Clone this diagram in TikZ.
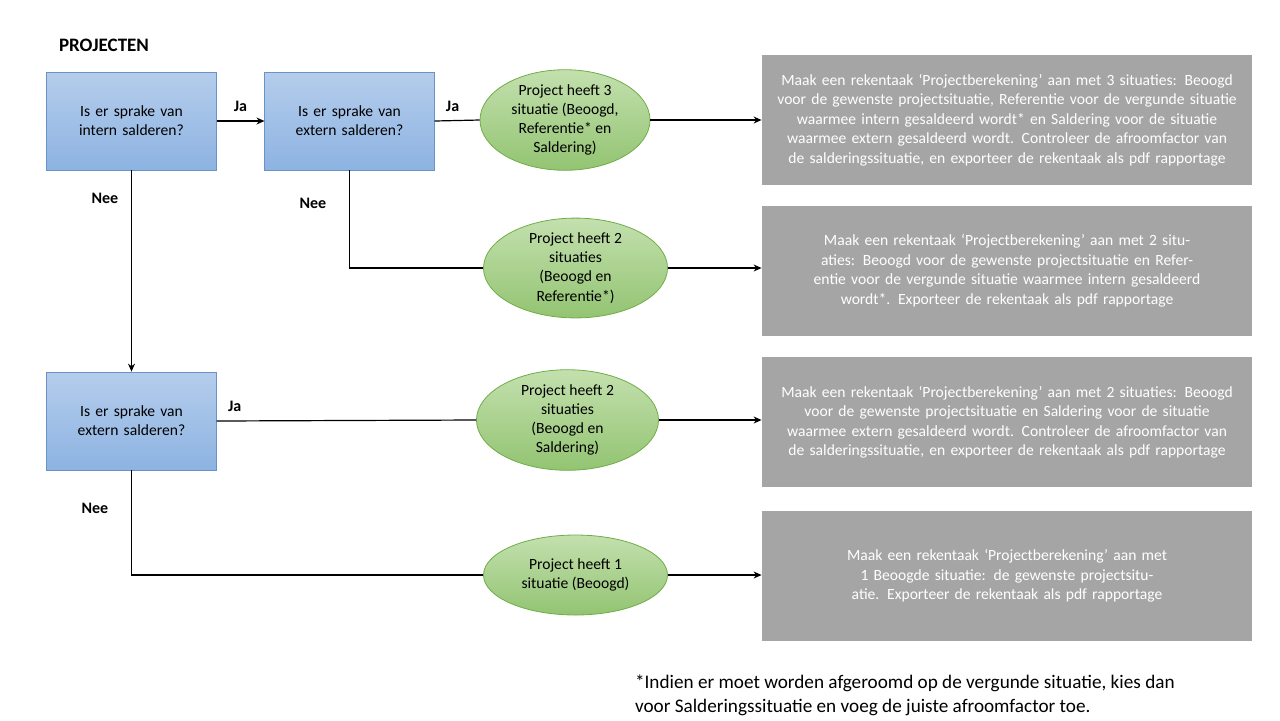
\documentclass[tikz,border=0pt]{standalone}
\usepackage{fontspec}
\setmainfont{Carlito}
\usetikzlibrary{positioning, shapes.geometric, arrows.meta}
\definecolor{vraagtop}{HTML}{B5CDEC}
\definecolor{vraagbot}{HTML}{8DB3E2}
\definecolor{vraagrand}{HTML}{6A92C6}
\definecolor{sittop}{HTML}{C3E0AE}
\definecolor{sitbot}{HTML}{93C472}
\definecolor{sitrand}{HTML}{70AD47}
\definecolor{taakgrijs}{HTML}{A5A5A5}
\tikzset{
  vraag/.style={draw=vraagrand, top color=vraagtop, bottom color=vraagbot,
    minimum width=84.5pt, minimum height=49pt, align=center, text width=78pt,
    font=\fontsize{7.8pt}{9.6pt}\selectfont},
  situatie/.style={ellipse, draw=sitrand, top color=sittop, bottom color=sitbot,
    inner sep=0pt, align=center, font=\fontsize{7.8pt}{9.6pt}\selectfont},
  taak/.style={fill=taakgrijs, text=white, minimum width=245pt, minimum height=65pt,
    text width=230pt, align=center, font=\fontsize{7.8pt}{9.75pt}\selectfont},
  lijn/.style={line width=0.6pt},
  pijl/.style={lijn, -{Stealth[length=4pt,width=3.5pt]}},
  lbl/.style={font=\bfseries\fontsize{8pt}{9pt}\selectfont}
}
\begin{document}
\begin{tikzpicture}[x=0.5pt, y=-0.5pt]
  \useasboundingbox (0,0) rectangle (1280,720);

  \node[anchor=west, font=\bfseries\fontsize{9.5pt}{11pt}\selectfont] (titel) at (52,45) {PROJECTEN};

  % vragen
  \node[vraag] (intern) at (131.5,121) {Is er sprake van intern salderen?};
  \node[vraag] (extern1) at (349.5,121) {Is er sprake van extern salderen?};
  \node[vraag] (extern2) at (131.5,421) {Is er sprake van extern salderen?};

  % situaties
  \node[situatie, minimum width=85pt, minimum height=40pt] (sit3) at (565,120)
    {Project heeft 3\\situatie (Beoogd,\\Referentie* en\\Saldering)};
  \node[situatie, minimum width=92pt, minimum height=40pt] (sit2a) at (575.5,268)
    {Project heeft 2\\situaties\\(Beoogd en\\Referentie*)};
  \node[situatie, minimum width=91pt, minimum height=40pt] (sit2b) at (567.5,420)
    {Project heeft 2\\situaties\\(Beoogd en\\Saldering)};
  \node[situatie, minimum width=92pt, minimum height=40pt] (sit1) at (575.5,575)
    {Project heeft 1\\situatie (Beoogd)};

  % rekentaken
  \node[taak] (taak3) at (1007,120) {Maak een rekentaak ‘Projectberekening’ aan met 3 situaties: Beoogd voor de gewenste projectsituatie, Referentie voor de vergunde situatie waarmee intern gesaldeerd wordt* en Saldering voor de situatie waarmee extern gesaldeerd wordt. Controleer de afroomfactor van de salderingssituatie, en exporteer de rekentaak als pdf rapportage};
  \node[taak] (taak2a) at (1007,270.5) {Maak een rekentaak ‘Projectberekening’ aan met 2 situaties: Beoogd voor de gewenste projectsituatie en Referentie voor de vergunde situatie waarmee intern gesaldeerd wordt*. Exporteer de rekentaak als pdf rapportage};
  \node[taak] (taak2b) at (1007,422) {Maak een rekentaak ‘Projectberekening’ aan met 2 situaties: Beoogd voor de gewenste projectsituatie en Saldering voor de situatie waarmee extern gesaldeerd wordt. Controleer de afroomfactor van de salderingssituatie, en exporteer de rekentaak als pdf rapportage};
  \node[taak] (taak1) at (1007,576) {Maak een rekentaak ‘Projectberekening’ aan met 1 Beoogde situatie: de gewenste projectsituatie. Exporteer de rekentaak als pdf rapportage};

  % verbindingen
  \draw[pijl] (intern.east) -- (extern1.west) node[lbl, midway, above=1pt] {Ja};
  \draw[lijn] (extern1.east) -- (sit3.west) node[lbl, pos=0.4, above=1pt] {Ja};
  \draw[pijl] (sit3.east) -- (taak3.west |- sit3.east);
  \draw[pijl] (intern.south) -- (extern2.north) node[lbl, pos=0.14, left=3pt] {Nee};
  \draw[lijn] (extern1.south) |- (sit2a.west) node[lbl, pos=0.17, left=8pt] {Nee};
  \draw[pijl] (sit2a.east) -- (taak2a.west |- sit2a.east);
  \draw[lijn] (extern2.east) -- (sit2b.west) node[lbl, pos=0.07, above=1pt] {Ja};
  \draw[pijl] (sit2b.east) -- (taak2b.west |- sit2b.east);
  \draw[lijn] (extern2.south) |- (sit1.west) node[lbl, pos=0.18, left=8pt] {Nee};
  \draw[pijl] (sit1.east) -- (taak1.west |- sit1.east);

  \node[anchor=north west, align=left, font=\fontsize{9.6pt}{12pt}\selectfont] (voetnoot) at (628,668)
    {*Indien er moet worden afgeroomd op de vergunde situatie, kies dan\\voor Salderingssituatie en voeg de juiste afroomfactor toe.};
\end{tikzpicture}
\end{document}
